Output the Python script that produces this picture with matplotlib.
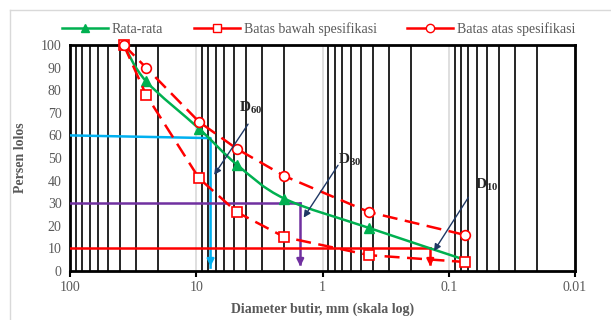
import numpy as np
import matplotlib.pyplot as plt
from matplotlib.path import Path
from matplotlib.patches import PathPatch
from matplotlib.lines import Line2D
from matplotlib.ticker import LogLocator, FixedLocator, NullFormatter

plt.rcParams['font.family'] = ['Liberation Serif', 'DejaVu Serif']
plt.rcParams['mathtext.fontset'] = 'custom'
plt.rcParams['mathtext.bf'] = 'Liberation Serif:bold'
plt.rcParams['mathtext.rm'] = 'Liberation Serif'

# sieve sizes (mm) and percent passing
sieve = [37.5, 25, 9.5, 4.75, 2.0, 0.425, 0.075]
rata_rata = [100, 84, 63, 47, 32, 19, 5]
batas_bawah = [100, 78, 41, 26, 15, 7, 4]
batas_atas = [100, 90, 66, 54, 42, 26, 16]

# characteristic diameters
d60, d30, d10 = 7.7, 1.5, 0.14

GREEN = '#00B050'
RED = '#FF0000'
CYAN = '#00B0F0'
PURPLE = '#7030A0'
NAVY = '#1F3864'
GRAY = '#595959'

fig = plt.figure(figsize=(6.11, 3.20), dpi=100)
ax = fig.add_axes([70/611, 1-271/320, 505/611, 226/320])

ax.set_xscale('log')
ax.set_xlim(100, 0.01)
ax.set_ylim(0, 100)
ax.set_yticks(range(0, 101, 10))
ax.xaxis.set_major_locator(FixedLocator([100, 10, 1, 0.1, 0.01]))
ax.set_xticklabels(['100', '10', '1', '0.1', '0.01'])
ax.xaxis.set_minor_locator(LogLocator(base=10, subs=np.arange(2, 10)))
ax.xaxis.set_minor_formatter(NullFormatter())
ax.grid(True, which='minor', axis='x', color='black', lw=1.2)
ax.grid(True, which='major', axis='x', color='#d9d9d9', lw=1.2)
ax.set_axisbelow(True)
for s in ax.spines.values():
    s.set_linewidth(2)
    s.set_color('black')
ax.tick_params(axis='x', which='major', length=4, width=1.5, colors='black',
               labelcolor=GRAY, labelsize=10, pad=3)
ax.tick_params(axis='x', which='minor', length=0)
ax.tick_params(axis='y', length=0, labelcolor=GRAY, labelsize=10, pad=6)

ax.set_xlabel('Diameter butir, mm (skala log)', fontsize=10, fontweight='bold',
              color=GRAY, labelpad=6)
ax.set_ylabel('Persen lolos', fontsize=10, fontweight='bold', color=GRAY, labelpad=10)

# D lines
ax.plot([100, d60, d60], [60, 58.8, 1.5], color=CYAN, lw=1.8, zorder=4)
ax.annotate('', xy=(d60, 0.8), xytext=(d60, 6),
            arrowprops=dict(arrowstyle='-|>', color=CYAN, lw=1.8, mutation_scale=10), zorder=4)
ax.plot([100, d30], [30, 30], color=PURPLE, lw=1.8, zorder=4)
ax.plot([d30, d30], [30, 3], color=PURPLE, lw=1.8, zorder=4)
ax.annotate('', xy=(d30, 0.8), xytext=(d30, 6),
            arrowprops=dict(arrowstyle='-|>', color=PURPLE, lw=1.8, mutation_scale=10), zorder=4)
ax.plot([100, d10], [10, 10], color=RED, lw=1.8, zorder=4)
ax.plot([d10, d10], [10, 3], color=RED, lw=1.8, zorder=4)
ax.annotate('', xy=(d10, 0.8), xytext=(d10, 6),
            arrowprops=dict(arrowstyle='-|>', color=RED, lw=1.8, mutation_scale=10), zorder=4)

# smoothed average curve (Catmull-Rom in log-x space)
lx = np.log10(sieve)
yy = np.array(rata_rata, dtype=float)
verts = [(sieve[0], yy[0])]
codes = [Path.MOVETO]
n = len(lx)
for i in range(n - 1):
    p0 = (lx[max(i-1, 0)], yy[max(i-1, 0)])
    p1 = (lx[i], yy[i])
    p2 = (lx[i+1], yy[i+1])
    p3 = (lx[min(i+2, n-1)], yy[min(i+2, n-1)])
    c1 = (p1[0] + (p2[0]-p0[0])/6, p1[1] + (p2[1]-p0[1])/6)
    c2 = (p2[0] - (p3[0]-p1[0])/6, p2[1] - (p3[1]-p1[1])/6)
    for c in (c1, c2, p2):
        verts.append((10**c[0], c[1]))
        codes.append(Path.CURVE4)
ax.add_patch(PathPatch(Path(verts, codes), fill=False, ec=GREEN, lw=1.8, zorder=5))
ax.plot(sieve[1:-1], rata_rata[1:-1], ls='none', marker='^', ms=7, color=GREEN, zorder=5)

# spec limits
ax.plot(sieve, batas_bawah, color=RED, lw=1.8, ls=(0, (6, 3)), marker='s', ms=7,
        mfc='white', mec=RED, mew=1.2, zorder=6, clip_on=False)
ax.plot(sieve, batas_atas, color=RED, lw=1.8, ls=(0, (6, 3)), marker='o', ms=7,
        mfc='white', mec=RED, mew=1.2, zorder=6, clip_on=False)

# D labels and arrows
for txt, xt, yt, xs, ys, xe, ye in [
        (r'$\mathbf{D_{60}}$', 4.6, 72, 3.78, 66, 7.42, 41.5),
        (r'$\mathbf{D_{30}}$', 0.75, 49, 0.733, 47.8, 1.45, 22.6),
        (r'$\mathbf{D_{10}}$', 0.062, 38, 0.068, 33.6, 0.1346, 7.8)]:
    ax.text(xt, yt, txt, fontsize=11, color='#262626', ha='left', va='center', zorder=7)
    ax.annotate('', xy=(xe, ye), xytext=(xs, ys),
                arrowprops=dict(arrowstyle='-|>', color=NAVY, lw=1.0, mutation_scale=10),
                zorder=7)

handles = [
    Line2D([], [], color=GREEN, lw=1.8, marker='^', ms=6),
    Line2D([], [], color=RED, lw=1.8, marker='s', ms=6, mfc='white', mec=RED),
    Line2D([], [], color=RED, lw=1.8, marker='o', ms=6, mfc='white', mec=RED),
]
fig.legend(handles, ['Rata-rata', 'Batas bawah spesifikasi', 'Batas atas spesifikasi'],
           loc='center', bbox_to_anchor=(0.522, 1-29/320), ncol=3, frameon=False,
           fontsize=10, labelcolor=GRAY, handlelength=3.3, columnspacing=2.2,
           handletextpad=0.3)

# chart area border (top and left visible)
fig.add_artist(Line2D([10/611, 1], [1-10/320, 1-10/320], color='#d9d9d9', lw=1))
fig.add_artist(Line2D([10/611, 10/611], [0, 1-10/320], color='#d9d9d9', lw=1))

fig.savefig('out.png', dpi=100)
